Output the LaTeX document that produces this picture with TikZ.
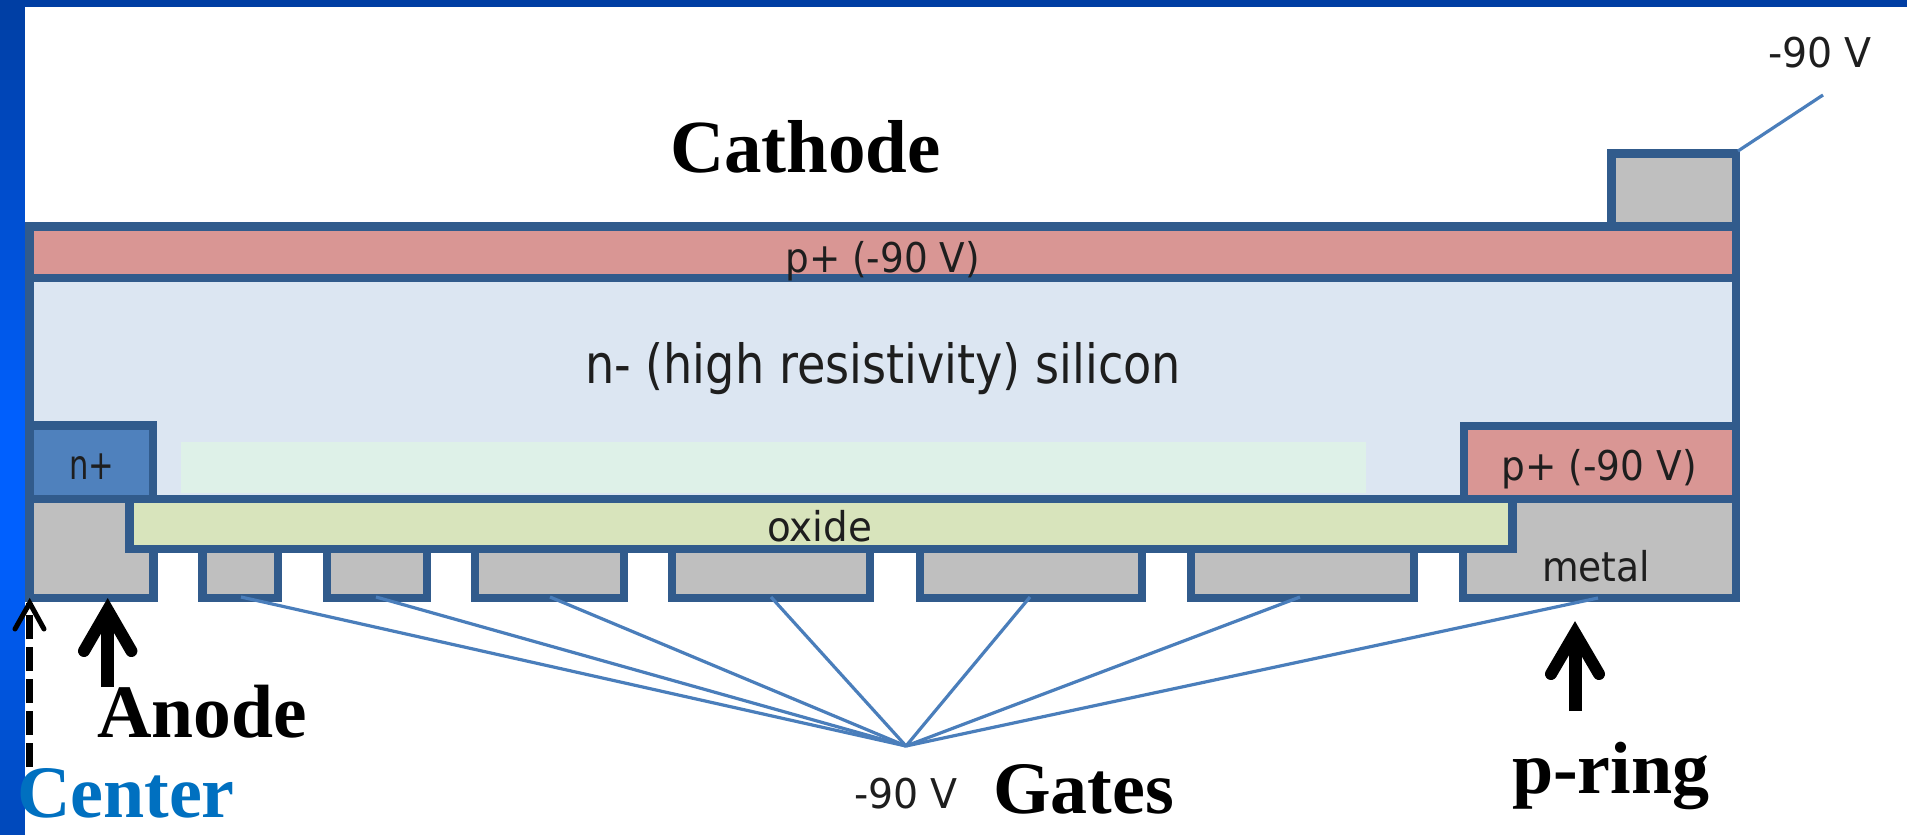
\documentclass[tikz,border=0pt]{standalone}
\usepackage{graphicx}
\usepackage{fontspec}
\setmainfont{Liberation Serif}
\newfontfamily\labfont{DejaVu Sans}
\definecolor{edgeblue}{HTML}{315B8C}
\definecolor{wireblue}{HTML}{4A7EBB}
\definecolor{siliconfill}{HTML}{DCE6F2}
\definecolor{greenfill}{HTML}{DEF1E8}
\definecolor{pfill}{HTML}{D99694}
\definecolor{nfill}{HTML}{4F81BD}
\definecolor{oxidefill}{HTML}{D8E4BC}
\definecolor{metalfill}{HTML}{BFBFBF}
\definecolor{labtext}{HTML}{1E1E1E}
\definecolor{centerblue}{HTML}{0070C0}
\definecolor{barbright}{HTML}{0060FF}
\definecolor{bardark}{HTML}{003EA3}
\definecolor{barlow}{HTML}{0048B8}
\newcommand{\lab}[3]{\resizebox{#1pt}{\height}{\fontsize{#2}{#2}\labfont #3}}
\tikzset{
  layer/.style={draw=edgeblue,line width=8.5pt,line join=miter},
  wire/.style={draw=wireblue,line width=3.2pt},
  labelnode/.style={inner sep=0pt,outer sep=0pt,anchor=base west,text=labtext},
  title/.style={inner sep=0pt,outer sep=0pt,anchor=base west,font=\fontsize{74}{74}\selectfont\bfseries},
  headline/.style={draw=black,line width=12pt,line cap=round,line join=miter,miter limit=10},
  shaftline/.style={draw=black,line width=13pt,line cap=butt},
}
\begin{document}
\begin{tikzpicture}[x=1pt,y=-1pt]
\useasboundingbox (0,0) rectangle (1907,835);
\fill[white] (0,0) rectangle (1907,835);
% slide frame: left bar gradient in strips
\foreach \i in {0,...,83}{
  \pgfmathsetmacro{\ya}{\i*10}
  \pgfmathsetmacro{\yb}{\i*10+10.5}
  \pgfmathsetmacro{\upper}{min(100,\i*10/4.2)}
  \pgfmathsetmacro{\lower}{max(0,(\i*10-550)/2.85)}
  \ifdim\ya pt<550pt
    \fill[barbright!\upper!bardark] (0,\ya) rectangle (25,\yb);
  \else
    \fill[barlow!\lower!barbright] (0,\ya) rectangle (25,\yb);
  \fi
}
\fill[bardark] (0,0) rectangle (1907,6.7);
% silicon and layers
\fill[siliconfill] (29.5,278) rectangle (1736,499);
\fill[greenfill] (181,442) rectangle (1366,493);
\draw[edgeblue,line width=8.5pt] (29.5,278) -- (29.5,499) (1736,278) -- (1736,499);
\path[layer,fill=metalfill] (1611.5,226.5) rectangle (1736,153.5);
\path[layer,fill=pfill] (29.5,226.5) rectangle (1736,278);
\path[layer,fill=nfill] (29.5,425.5) rectangle (153,499);
\path[layer,fill=pfill] (1464,426) rectangle (1736,499);
% metal
\path[layer,fill=metalfill] (29.5,499) -- (129.5,499) -- (129.5,549) -- (153.5,549) -- (153.5,598) -- (29.5,598) -- cycle;
\path[layer,fill=metalfill] (1512.5,499) -- (1736,499) -- (1736,598) -- (1463,598) -- (1463,549) -- (1512.5,549) -- cycle;
\foreach \a/\b in {202.5/278,327/427,475/624,672/870,920/1142,1191/1414}
  \path[layer,fill=metalfill] (\a,549) rectangle (\b,598);
\path[layer,fill=oxidefill] (129.5,499) rectangle (1512.5,549);
% wires
\coordinate (vtx) at (906,746);
\coordinate (w1) at (241,597);
\coordinate (w2) at (376,597);
\coordinate (w3) at (550,597);
\coordinate (w4) at (771,597);
\coordinate (w5) at (1030,597);
\coordinate (w6) at (1300,597);
\coordinate (w7) at (1598,598);
\foreach \w in {w1,w2,w3,w4,w5,w6,w7} \path[wire] (\w) -- (vtx);
\coordinate (cathodecorner) at (1738,151);
\coordinate (cathodeend) at (1823,95);
\path[wire] (cathodecorner) -- (cathodeend);
% labels
\node[labelnode] (vtop) at (1768,67.7) {\lab{104}{41}{-90 V}};
\node[labelnode] (vbot) at (854,808) {\lab{104}{41}{-90 V}};
\node[labelnode] (ptop) at (785.5,272) {\lab{194.5}{41}{p+ (-90 V)}};
\node[labelnode] (si) at (585,383) {\lab{596}{54}{n- (high resistivity) silicon}};
\node[labelnode] (nplus) at (69,479) {\lab{45}{41}{n+}};
\node[labelnode] (pright) at (1501.7,480) {\lab{195}{41}{p+ (-90 V)}};
\node[labelnode] (oxide) at (767,541.7) {\lab{105}{41}{oxide}};
\node[labelnode] (metal) at (1542,581.7) {\lab{108}{41}{metal}};
% arrows
\coordinate (anodebase) at (107.7,687);
\coordinate (anodetip) at (107.7,610);
\coordinate (ringbase) at (1575,711);
\coordinate (ringtip) at (1575,633);
\coordinate (centerbase) at (29.7,767);
\coordinate (centertip) at (29.7,603);
\path[shaftline] (anodebase) -- (anodetip);
\path[headline] (84,651) -- (anodetip) -- (131.4,651);
\path[shaftline] (ringbase) -- (ringtip);
\path[headline] (1551,674) -- (ringtip) -- (1599,674);
\draw[black,line width=7pt,dash pattern=on 24pt off 8pt] (centerbase) -- (centertip);
\draw[black,line width=5pt,line cap=round,miter limit=10] (15,629) -- (centertip) -- (44,629);
% titles
\node[title,font=\fontsize{75}{75}\selectfont\bfseries] (cathode) at (670,172.7) {Cathode};
\node[title,font=\fontsize{75.5}{75.5}\selectfont\bfseries] (anode) at (97,737) {Anode};
\node[title,text=centerblue] (center) at (17,817) {Center};
\node[title] (gates) at (993,813) {Gates};
\node[title] (pring) at (1512,793) {p-ring};
\end{tikzpicture}
\end{document}
